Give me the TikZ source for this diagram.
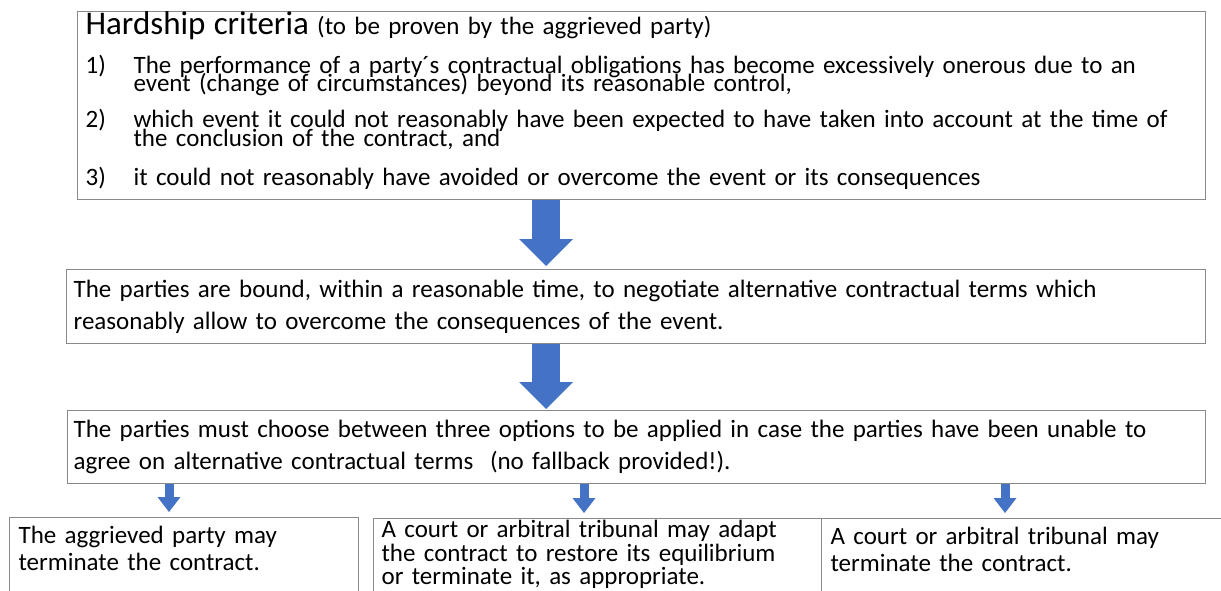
\documentclass[tikz,border=0pt]{standalone}
\usepackage{fontspec}
\setmainfont{Carlito}
\usetikzlibrary{arrows.meta}

\definecolor{boxline}{RGB}{137,137,137}
\definecolor{arrowblue}{RGB}{68,114,196}

\newcommand{\bodysize}{\fontsize{25}{32}\selectfont\lineskiplimit=-50pt\relax\parindent=0pt\relax}
\newcommand{\optsize}{\fontsize{25}{27}\selectfont\lineskiplimit=-50pt\relax\parindent=0pt\relax}
\newcommand{\adaptsize}{\fontsize{25}{23.5}\selectfont\lineskiplimit=-50pt\relax\parindent=0pt\relax}
\newcommand{\itemsize}{\fontsize{25}{18.5}\selectfont}
\newcommand{\critem}[1]{\hangindent=48pt\hangafter=1\makebox[48pt][l]{#1}}

\tikzset{
  box/.style={draw=boxline, line width=1.2pt, fill=white, anchor=north west,
    align=left, inner ysep=0pt, font=\bodysize},
  optbox/.style={box, inner ysep=9pt, font=\optsize},
  bigarrow/.style={arrowblue, line width=28pt,
    -{Triangle[width=54pt,length=27pt,line width=0pt]}},
  smallarrow/.style={arrowblue, line width=9pt,
    -{Triangle[width=23pt,length=15pt,line width=0pt]}}
}

\begin{document}
\begin{tikzpicture}[x=1pt, y=-1pt]
    \useasboundingbox (0,0) rectangle (1221,591);
    \clip (0,0) rectangle (1221,591);

    % criteria box
    \node[box, inner xsep=8pt, text width=1112pt, minimum height=188pt] (crit) at (77,11) {
        \vspace*{-2pt}%
        {\fontsize{33}{33}\selectfont Hardship criteria} (to be proven by the aggrieved party)\par
        \itemsize\vspace{22pt}
        \critem{1)}The performance of a party´s contractual obligations has become excessively onerous due to an\newline
        event (change of circumstances) beyond its reasonable control,\par
        \vspace{17.5pt}
        \critem{2)}which event it could not reasonably have been expected to have taken into account at the time of\newline
        the conclusion of the contract, and\par
        \vspace{21pt}
        \critem{3)}it could not reasonably have avoided or overcome the event or its consequences\rule[-14pt]{0pt}{1pt}\par
    };

    \node[box, inner xsep=7pt, text width=1125pt, minimum height=74pt] (duty) at (66,269) {
        The parties are bound, within a reasonable time, to negotiate alternative contractual terms which\\
        reasonably allow to overcome the consequences\ of the event.
    };

    \node[box, inner xsep=6pt, text width=1126pt, minimum height=73pt] (opts) at (67,410) {
        The parties must choose between three options to be applied in case the parties have been unable to\\
        agree on alternative contractual terms\ \ (no fallback provided!).
    };

    % the three options
    \node[optbox, inner xsep=9pt, text width=331pt] (term) at (9,517) {
        The aggrieved party may\\
        terminate the contract.\rule[-60pt]{0pt}{1pt}
    };
    \node[box, inner xsep=8pt, inner ysep=2pt, text width=432pt, font=\adaptsize] (adapt) at (373,518) {
        A court or arbitral tribunal may adapt\\
        the contract to restore its equilibrium\\
        or terminate it, as appropriate.\rule[-60pt]{0pt}{1pt}
    };
    \node[optbox, inner xsep=9pt, text width=401pt] (court) at (821,518) {
        A court or arbitral tribunal may\\
        terminate the contract.\rule[-60pt]{0pt}{1pt}
    };

    % arrows
    \coordinate (a1) at (546,0);
    \coordinate (s1) at (169,0);
    \coordinate (s2) at (584,0);
    \coordinate (s3) at (1005,0);
    \draw[bigarrow, shorten >=3pt] (crit.south -| a1) -- (duty.north -| a1);
    \draw[bigarrow, shorten >=1pt] (duty.south -| a1) -- (opts.north -| a1);
    \draw[smallarrow, shorten >=5pt] (opts.south -| s1) -- (term.north -| s1);
    \draw[smallarrow, shorten >=5pt] (opts.south -| s2) -- (adapt.north -| s2);
    \draw[smallarrow, shorten >=5pt] (opts.south -| s3) -- (court.north -| s3);
\end{tikzpicture}
\end{document}
